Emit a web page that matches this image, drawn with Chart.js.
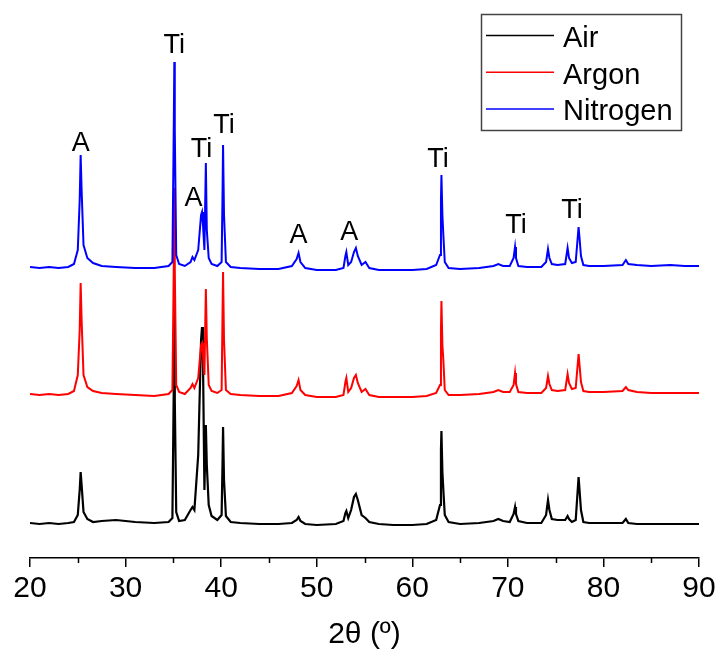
<!DOCTYPE html>
<html>
<head>
<meta charset="utf-8">
<script src="https://cdn.jsdelivr.net/npm/chart.js@4.4.0/dist/chart.umd.min.js"></script>
<style>
  html, body { margin: 0; padding: 0; background: #fff; }
  #wrap { width: 721px; height: 655px; }
</style>
</head>
<body>
<div id="wrap"><canvas id="xrdChart" width="721" height="655"></canvas></div>
<script>
// 2theta grid (degrees) shared by the three patterns
const twoTheta = [
  20, 21, 22, 23, 24, 24.6, 25.0, 25.2, 25.3, 25.4,
  25.6, 26.0, 26.6, 27.5, 29, 31, 33, 34.5, 34.9, 35.05,
  35.1, 35.15, 35.3, 35.6, 36.2, 36.8, 37.0, 37.2, 37.6, 37.9,
  38.0, 38.1, 38.25, 38.4, 38.5, 38.7, 39.0, 39.6, 40.05, 40.15,
  40.2, 40.3, 40.5, 41, 42, 44, 46, 47.4, 47.9, 48.1,
  48.3, 48.8, 50, 52, 52.8, 53.0, 53.1, 53.3, 53.6, 53.9,
  54.1, 54.3, 54.7, 55.1, 55.5, 56.5, 58, 60, 61.5, 62.5,
  62.9, 63.0, 63.05, 63.15, 63.25, 63.4, 63.8, 65, 67, 68.5,
  69.0, 69.5, 70.2, 70.6, 70.75, 70.85, 71.1, 72, 73.5, 74.0,
  74.2, 74.35, 74.6, 75.2, 76.0, 76.25, 76.4, 76.7, 77.1, 77.4,
  77.5, 77.65, 77.9, 78.5, 80, 82.0, 82.35, 82.6, 83.5, 85,
  87, 88.5, 90
];

// intensities (a.u.) above each pattern's own baseline
const air = [
  2, 1, 2, 1, 2, 3, 10, 35, 53, 40,
  13, 6, 3, 4, 5, 3, 2, 3, 7, 145,
  225, 125, 13, 4, 5, 15, 18, 15, 70, 185,
  198, 165, 35, 100, 60, 20, 9, 5, 10, 65,
  98, 45, 9, 3, 2, 1, 1, 2, 5, 8,
  4, 1, 0, 1, 4, 12, 14, 7, 15, 28,
  31, 25, 10, 7, 3, 1, 0, 0, 1, 5,
  20, 75, 94, 53, 35, 10, 3, 1, 2, 4,
  6, 4, 3, 11, 18, 11, 4, 2, 2, 10,
  25, 15, 6, 5, 5, 9, 6, 3, 5, 48,
  35, 15, 3, 2, 2, 2, 6, 2, 1, 1,
  1, 1, 1
];
const argon = [
  3, 2, 3, 2, 3, 6, 22, 67, 114, 77,
  22, 10, 6, 4, 3, 2, 1, 3, 7, 137,
  209, 127, 12, 5, 3, 9, 13, 9, 19, 52,
  54, 42, 22, 108, 59, 12, 6, 4, 7, 87,
  125, 57, 7, 3, 2, 1, 1, 4, 11, 17,
  7, 2, 0, 0, 2, 15, 19, 5, 9, 19,
  22, 14, 5, 8, 2, 0, 0, 0, 1, 4,
  12, 67, 96, 52, 37, 7, 2, 2, 3, 5,
  7, 5, 5, 12, 24, 13, 5, 4, 4, 9,
  21, 13, 7, 6, 7, 23, 14, 8, 9, 43,
  32, 15, 6, 5, 5, 6, 10, 7, 5, 4,
  4, 4, 4
];
const nitrogen = [
  3, 2, 3, 2, 3, 6, 20, 70, 115, 80,
  25, 12, 7, 4, 3, 2, 2, 4, 8, 150,
  208, 140, 15, 6, 4, 8, 13, 10, 20, 55,
  58, 45, 20, 107, 40, 12, 6, 4, 8, 80,
  125, 55, 8, 3, 2, 1, 1, 4, 11, 17,
  8, 2, 0, 0, 2, 14, 18, 5, 8, 18,
  22, 14, 5, 8, 2, 0, 0, 0, 1, 5,
  15, 70, 95, 55, 35, 8, 2, 1, 2, 4,
  6, 4, 4, 12, 23, 12, 4, 3, 3, 8,
  21, 12, 6, 5, 6, 22, 12, 7, 8, 43,
  32, 14, 5, 4, 4, 5, 10, 6, 5, 4,
  5, 4, 4
];

// vertical offsets used to stack the patterns
const seriesNames = ['Air', 'Argon', 'Nitrogen'];
const seriesOffsets = [33, 161, 288];

const xTicks = [20, 30, 40, 50, 60, 70, 80, 90];
const xMinorTicks = [25, 35, 45, 55, 65, 75, 85];

// phase labels (A = anatase, Ti = titanium)
const peakText = ['A', 'Ti', 'A', 'Ti', 'Ti', 'A', 'A', 'Ti', 'Ti', 'Ti'];
const peakTextX = [25.3, 35.1, 37.1, 37.95, 40.3, 48.1, 53.4, 62.7, 70.85, 76.7];
const peakTextY = [407, 505, 352, 401, 425, 315, 318, 391, 325, 340];

const FONT = "'Liberation Sans', Arial, sans-serif";

function toPoints(values, offset) {
    return twoTheta.map((t, i) => ({ x: t, y: values[i] + offset }));
}

const minorTicksPlugin = {
    id: 'minorTicks',
    afterDraw(chart) {
        const x = chart.scales.x;
        const ctx = chart.ctx;
        const y0 = chart.chartArea.bottom;
        ctx.save();
        ctx.strokeStyle = '#000';
        ctx.lineWidth = 1.5;
        xMinorTicks.forEach(v => {
            const px = Math.round(x.getPixelForValue(v)) + 0.5;
            ctx.beginPath();
            ctx.moveTo(px, y0);
            ctx.lineTo(px, y0 + 5);
            ctx.stroke();
        });
        ctx.restore();
    }
};

const peakLabelsPlugin = {
    id: 'peakLabels',
    afterDatasetsDraw(chart) {
        const { x, y } = chart.scales;
        const ctx = chart.ctx;
        ctx.save();
        ctx.fillStyle = '#000';
        ctx.font = '27px ' + FONT;
        ctx.textAlign = 'center';
        ctx.textBaseline = 'alphabetic';
        peakText.forEach((t, i) => {
            ctx.fillText(t, x.getPixelForValue(peakTextX[i]), y.getPixelForValue(peakTextY[i]));
        });
        ctx.restore();
    }
};

const boxLegendPlugin = {
    id: 'boxLegend',
    afterDraw(chart) {
        const ctx = chart.ctx;
        ctx.save();
        ctx.strokeStyle = '#444';
        ctx.lineWidth = 1.5;
        ctx.strokeRect(481.5, 14.5, 200, 116);
        ctx.font = '29px ' + FONT;
        ctx.textBaseline = 'alphabetic';
        ctx.textAlign = 'left';
        chart.data.datasets.forEach((ds, i) => {
            const base = 47 + i * 36.7;
            ctx.strokeStyle = ds.borderColor;
            ctx.lineWidth = 1.5;
            ctx.beginPath();
            ctx.moveTo(486, base - 11.5);
            ctx.lineTo(554, base - 11.5);
            ctx.stroke();
            ctx.fillStyle = '#000';
            ctx.fillText(ds.label, 563, base);
        });
        ctx.restore();
    }
};

const colors = ['#000000', '#ff0000', '#0000ff'];
const patterns = [air, argon, nitrogen];

const ctx = document.getElementById('xrdChart').getContext('2d');
const xrdChart = new Chart(ctx, {
    type: 'line',
    data: {
        datasets: patterns.map((vals, i) => ({
            label: seriesNames[i],
            data: toPoints(vals, seriesOffsets[i]),
            borderColor: colors[i],
            borderWidth: i === 0 ? 2.2 : 2,
            pointRadius: 0,
            tension: 0,
            fill: false,
            order: 3 - i
        }))
    },
    options: {
        responsive: false,
        animation: false,
        layout: { padding: { left: 30, right: 22, top: 10, bottom: 0 } },
        plugins: {
            legend: { display: false },
            tooltip: { enabled: false }
        },
        scales: {
            x: {
                type: 'linear',
                min: 20,
                max: 90,
                afterFit(scale) { scale.height = 97; },
                afterBuildTicks(scale) { scale.ticks = xTicks.map(v => ({ value: v })); },
                grid: {
                    display: true,
                    drawOnChartArea: false,
                    drawTicks: true,
                    tickLength: 9,
                    color: '#000',
                    lineWidth: 1.5
                },
                border: { display: true, color: '#000', width: 1.5 },
                ticks: {
                    color: '#000',
                    font: { family: FONT, size: 30 },
                    padding: 4,
                    maxRotation: 0,
                    autoSkip: false
                },
                title: {
                    display: true,
                    text: '2θ (º)',
                    color: '#000',
                    font: { family: FONT, size: 30, lineHeight: 1 },
                    padding: { top: 0, bottom: 5 }
                }
            },
            y: {
                display: false,
                min: 0,
                max: 548
            }
        }
    },
    plugins: [minorTicksPlugin, peakLabelsPlugin, boxLegendPlugin]
});
</script>
</body>
</html>
